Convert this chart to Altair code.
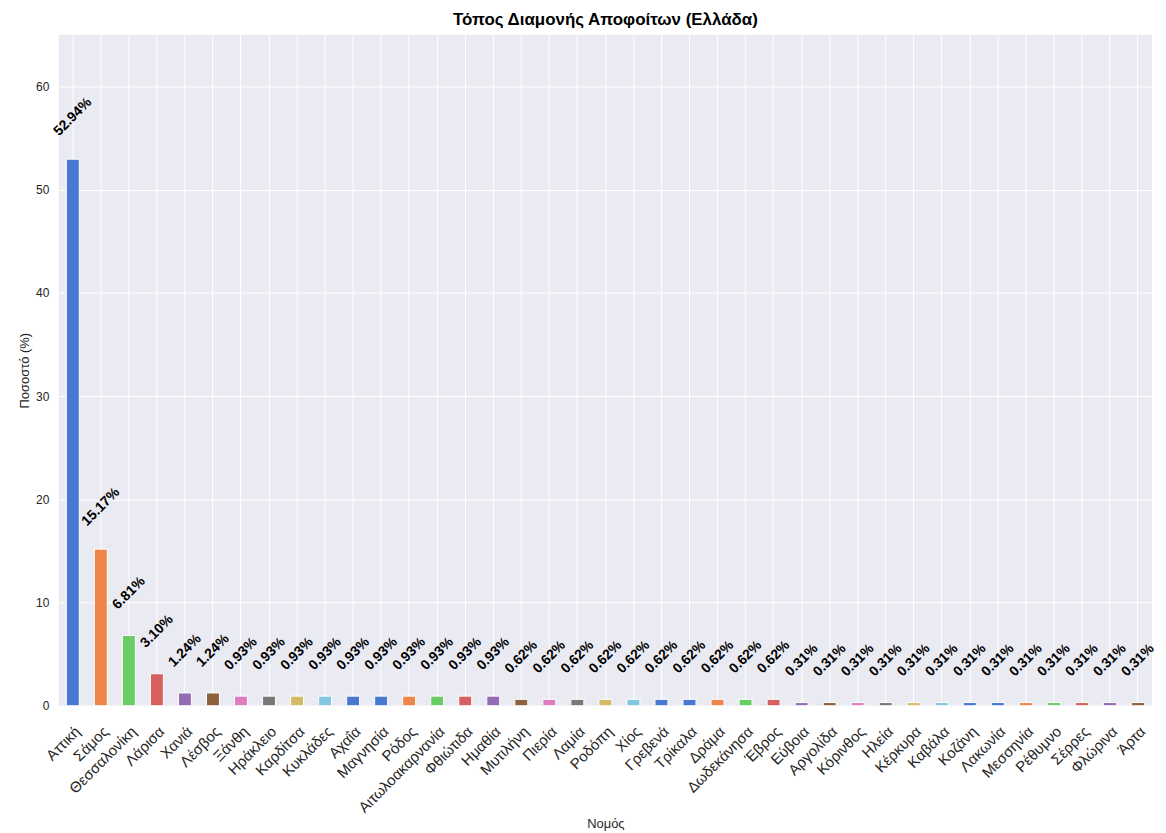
import altair as alt
import pandas as pd

categories = [
    "Αττική", "Σάμος", "Θεσσαλονίκη", "Λάρισα", "Χανιά", "Λέσβος", "Ξάνθη",
    "Ηράκλειο", "Καρδίτσα", "Κυκλάδες", "Αχαΐα", "Μαγνησία", "Ρόδος",
    "Αιτωλοακαρνανία", "Φθιώτιδα", "Ημαθία", "Μυτιλήνη", "Πιερία", "Λαμία",
    "Ροδόπη", "Χίος", "Γρεβενά", "Τρίκαλα", "Δράμα", "Δωδεκάνησα", "Έβρος",
    "Εύβοια", "Αργολίδα", "Κόρινθος", "Ηλεία", "Κέρκυρα", "Καβάλα", "Κοζάνη",
    "Λακωνία", "Μεσσηνία", "Ρέθυμνο", "Σέρρες", "Φλώρινα", "Άρτα",
]
values = [
    52.94, 15.17, 6.81, 3.10, 1.24, 1.24,
    0.93, 0.93, 0.93, 0.93, 0.93, 0.93, 0.93, 0.93, 0.93, 0.93,
    0.62, 0.62, 0.62, 0.62, 0.62, 0.62, 0.62, 0.62, 0.62, 0.62,
    0.31, 0.31, 0.31, 0.31, 0.31, 0.31, 0.31, 0.31, 0.31, 0.31, 0.31, 0.31, 0.31,
]
y_ticks = [0, 10, 20, 30, 40, 50, 60]

muted = ["#4878d0", "#ee854a", "#6acc64", "#d65f5f", "#956cb4",
         "#8c613c", "#dc7ec0", "#797979", "#d5bb67", "#82c6e2", "#4878d0"]
colors = [muted[i % 11] for i in range(len(categories))]

df = pd.DataFrame({
    "nomos": categories,
    "pct": values,
    "label": [f"{v:.2f}%" for v in values],
})

FONT = "Liberation Sans"

x_enc = alt.X(
    "nomos:N",
    sort=categories,
    scale=alt.Scale(domain=categories, paddingInner=0, paddingOuter=0),
    axis=alt.Axis(
        title="Νομός", labelAngle=315, labelAlign="right", labelBaseline="top",
        labelFontSize=15, labelPadding=18, tickSize=0, domain=False,
        grid=True, gridColor="white", gridWidth=1, bandPosition=0.5,
        labelColor="#262626", labelFont=FONT, titleFont=FONT,
        titleFontSize=13, titleFontWeight="normal", titleColor="#262626",
        titlePadding=2,
    ),
)
y_enc = alt.Y(
    "pct:Q",
    scale=alt.Scale(domain=[0, 65], nice=False, zero=True),
    axis=alt.Axis(
        title="Ποσοστό (%)", values=y_ticks, grid=True, gridColor="white",
        gridWidth=1, tickSize=0, domain=False, labelPadding=10,
        labelFontSize=12, labelColor="#262626", labelFont=FONT,
        titleFont=FONT, titleFontSize=13, titleFontWeight="normal",
        titleColor="#262626", titlePadding=4,
    ),
)

base = alt.Chart(df)
bars = base.mark_bar(size=13, stroke="white", strokeWidth=1).encode(
    x=x_enc,
    y=y_enc,
    color=alt.Color("nomos:N", scale=alt.Scale(domain=categories, range=colors), legend=None),
)
texts = base.mark_text(
    angle=315, dx=30, dy=-30, align="center", baseline="middle",
    fontWeight="bold", fontSize=14, font=FONT, color="black",
).encode(x=x_enc, y=y_enc, text="label:N")

chart = alt.layer(bars, texts).properties(
    width=1098,
    height=674,
    background="white",
    title=alt.TitleParams(
        "Τόπος Διαμονής Αποφοίτων (Ελλάδα)", fontSize=17, fontWeight="bold",
        font=FONT, color="black", anchor="middle", offset=6,
    ),
    autosize=alt.AutoSizeParams(type="none"),
    padding={"left": 51, "top": 25, "right": 6, "bottom": 125},
).configure_view(fill="#EAEAF2", strokeWidth=0)

chart.save("out.html", embed_options={"renderer": "svg", "actions": False})
